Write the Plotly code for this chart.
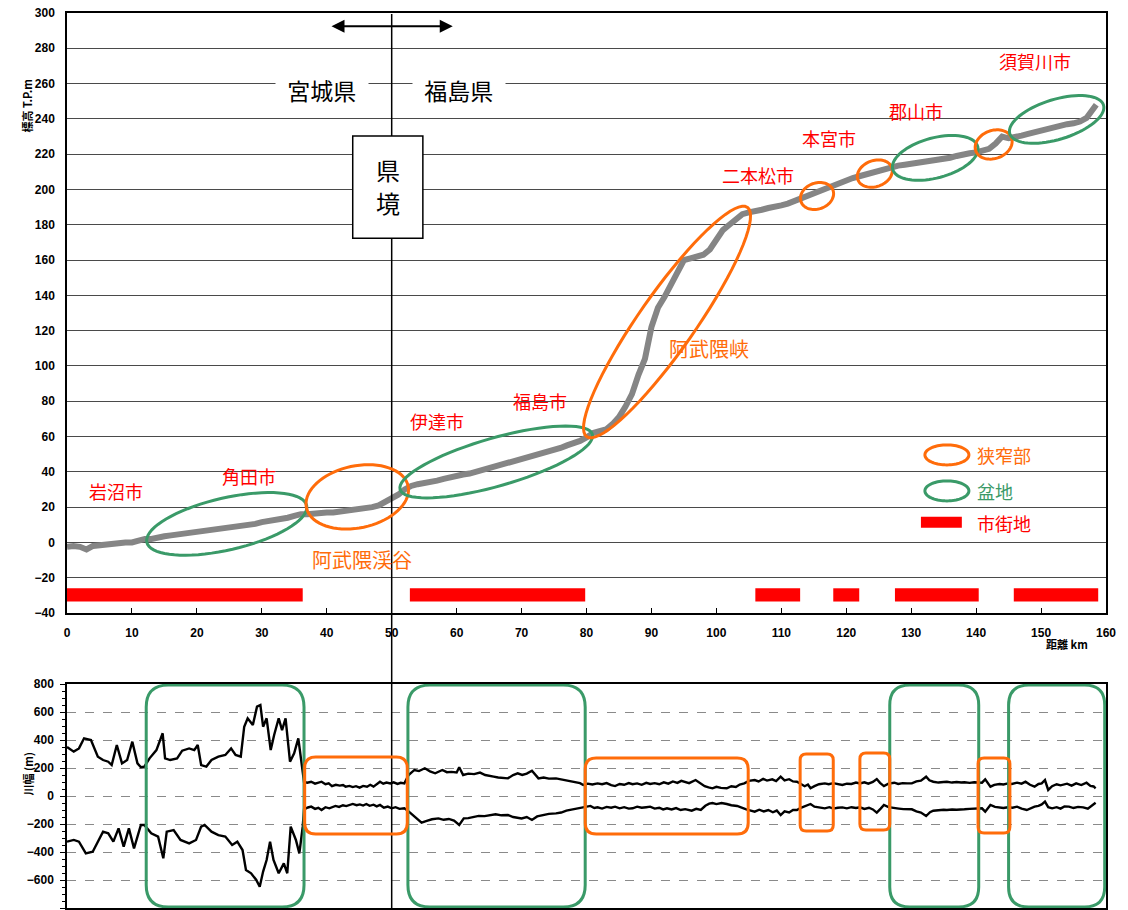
import numpy as np
import plotly.graph_objects as go

# ------------------------------------------------------------------ data
dist_km = [float(i) for i in range(159)] + [158.5]
elev_m = [
    -2.5, -2, -2.5, -4, -2, -1.5, -1.5, -1, -0.5, 0,
    0, 1, 2, 2, 3, 3.5, 4, 4.5, 4.5, 5.5,
    6, 6, 7, 7.5, 8, 8.5, 9, 9.5, 10, 10.5,
    11.5, 12, 12.5, 13, 14, 15, 16, 16, 16.5, 16.5,
    17, 17, 17.5, 18, 18, 18.5, 19, 20, 21, 23,
    25, 27, 30, 32, 33, 33.5, 34, 35, 36, 37,
    37.5, 38.5, 39, 40, 41, 42, 43, 44, 45, 46,
    47, 48, 49, 50.5, 51, 52, 53.5, 55, 56, 57.5,
    59.5, 62, 63, 64, 67, 71, 77, 84, 95, 104,
    122, 133, 139, 146, 154, 160, 161, 162, 163, 166,
    172, 177, 180, 183, 186, 187, 187.5, 188.5, 189.5, 190,
    191, 192, 193.5, 195, 196, 197.5, 199, 201, 202.5, 204,
    205, 206.5, 207.5, 208.5, 209.5, 211, 212, 213, 213.5, 214,
    214.5, 215, 215.5, 216, 217, 217.5, 218, 219, 220, 220.5,
    221, 222, 223, 226, 230, 229, 229.5, 230.5, 231.5, 232.5,
    233.5, 234.5, 235, 236, 237, 237.5, 238.5, 240.5, 245, 248,
]

width_up_km = [
    0, 1.04, 1.84, 2.63, 3.69, 4.75, 5.55, 6.35, 6.88, 7.67, 8.47, 9.26, 10.06, 10.85,
    11.38, 11.91, 12.71, 13.77, 14.73, 15.1, 15.89, 16.95, 17.74, 18.81, 19.6, 20.13,
    20.66, 21.46, 22.25, 23.31, 24.38, 25.27, 25.96, 26.76, 27.29, 27.82, 28.62, 29.26,
    29.78, 30.2, 30.74, 31.37, 31.9, 32.6, 33.12, 33.66, 34.34, 34.98, 35.62, 36.03,
    36.5, 37, 37.6, 38.2, 38.8, 39.2, 39.8, 40.3, 40.8, 41.4, 42, 42.5, 42.9, 43.5, 44,
    44.5, 45.06, 45.6, 46.2, 46.7, 47.2, 47.7, 48.2, 48.7, 49.2, 49.8, 50.3, 50.9, 51.4,
    51.95, 52.6, 53.5, 54.2, 55.1, 55.9, 56.7, 57.3, 57.8, 58.5, 59.2, 60, 60.4, 61,
    61.8, 62.7, 63.6, 64.4, 65.1, 65.7, 66.4, 67.2, 67.9, 68.7, 69.4, 70.1, 70.8, 71.6,
    72.1, 72.6, 73.4, 74.2, 75.3, 76.1, 76.9, 77.6, 78.3, 79, 79.5, 80.2, 80.9, 81.7,
    82.4, 83.1, 83.8, 84.4, 85.1, 85.8, 86.5, 87.1, 87.8, 88.5, 89.2, 89.8, 90.5, 91.2,
    91.9, 92.6, 93.3, 94, 94.6, 95.1, 95.8, 96.8, 97.5, 98.2, 98.8, 99.4, 100, 100.7,
    101.6, 102.3, 103, 103.6, 104.3, 105, 105.9, 106.5, 107.2, 107.8, 108.6, 109.2,
    109.9, 110.5, 111.2, 111.8, 112.4, 113, 113.6, 114.1, 114.5, 115.1, 115.8, 116.7,
    117.3, 118, 118.7, 119.4, 120.1, 120.8, 121.5, 122.1, 122.8, 123.4, 124.1, 124.7,
    125.2, 125.8, 126.5, 127.4, 128, 128.7, 129.4, 130.1, 130.8, 131.5, 132.3, 132.8,
    133.4, 134.2, 135, 135.5, 136.3, 137, 137.7, 138.2, 139, 139.7, 140.3, 140.9, 141.4,
    141.8, 142.2, 142.8, 143.6, 144.2, 144.9, 145.5, 146.3, 147, 147.6, 148.3, 149,
    149.6, 150.1, 150.6, 151.1, 151.7, 152.4, 153, 153.3, 154, 154.7, 155.4, 156.2, 157,
    157.6, 158.1, 158.4,
]
width_up_m = [
    350, 317, 340, 412, 400, 281, 257, 245, 221, 364, 233, 257, 388, 233,
    205, 210, 269, 328, 448, 269, 257, 269, 324, 340, 328, 364,
    221, 210, 257, 281, 293, 340, 293, 281, 495, 555, 507, 638,
    650, 495, 555, 328, 436, 555, 471, 555, 245, 305, 412, 245,
    100, 95, 102, 88, 96, 102, 84, 90, 71, 80, 74, 78, 67, 72, 64,
    70, 60, 72, 66, 80, 67, 85, 102, 88, 96, 90, 98, 86, 94,
    90, 150, 186, 178, 198, 176, 162, 172, 186, 170, 172, 168, 205, 150,
    160, 156, 167, 150, 146, 138, 132, 130, 126, 150, 162, 150, 160, 181,
    150, 126, 132, 124, 126, 118, 110, 104, 100, 92, 79, 88, 82, 90,
    84, 92, 78, 71, 86, 80, 92, 84, 90, 80, 94, 86, 92, 84,
    98, 88, 104, 94, 108, 102, 92, 114, 90, 70, 62, 55, 66, 58,
    55, 70, 64, 82, 90, 108, 114, 104, 122, 110, 119, 106,
    138, 112, 120, 104, 102, 88, 70, 82, 55, 70, 84, 90,
    84, 92, 86, 79, 88, 86, 96, 90, 98, 88, 100, 121,
    94, 71, 88, 95, 86, 92, 90, 90, 104, 110, 138, 112,
    102, 96, 100, 102, 96, 100, 96, 98, 94, 98, 96, 95, 119,
    90, 67, 80, 86, 82, 90, 86, 95, 88, 102, 80, 67,
    86, 90, 114, 43, 70, 84, 76, 79, 88, 74, 90, 78, 95,
    72, 68, 55,
]

width_lo_km = [
    0, 1.04, 1.84, 2.9, 3.96, 4.75, 5.55, 6.35, 7.14, 7.94, 8.73, 9.53, 10.32, 11.38,
    11.91, 12.97, 14.03, 14.83, 15.36, 16.42, 17.48, 18.81, 19.87, 20.66, 21.19, 22.25,
    23.31, 24.38, 25.43, 26.23, 27.03, 27.56, 28.35, 29.15, 29.68, 30.2, 30.74, 31.27,
    31.8, 32.6, 33.39, 33.92, 34.45, 35.25, 35.78, 36.3,
    36.5, 37.1, 37.6, 38.2, 38.7, 39.2, 39.8, 40.4, 41, 41.34, 41.9, 42.5, 43, 43.5, 44,
    44.6, 45.1, 45.6, 46.1, 46.6, 47.2, 47.7, 48.2, 48.8, 49.4, 50, 50.6, 51.2, 51.95,
    52.6, 53.5, 54.1, 54.6, 55.4, 56.2, 57.2, 58, 58.8, 59.6, 60.4, 61.1, 61.8, 62.6,
    63.4, 64.3, 65.2, 66, 66.9, 67.9, 68.7, 69.4, 70, 70.8, 71.6, 72.4, 73.2, 74.2, 75.3,
    76.1, 76.9, 77.7, 78.5, 79.3, 80, 80.6, 81.2, 81.7, 82.4, 83.1, 83.8, 84.4, 85.1,
    85.8, 86.5, 87.1, 87.8, 88.5, 89.2, 89.8, 90.5, 91.2, 91.8, 92.4, 93.1, 93.8, 94.5,
    95.2, 96.2, 96.9, 97.6, 98.3, 98.9, 99.4, 100, 100.8, 101.6, 102.3, 103.2, 103.9,
    104.6, 105.3, 105.9, 106.6, 107.3, 108, 108.7, 109.3, 109.9, 110.5, 111.2, 111.8,
    112.4, 113, 113.7, 114.5, 115.1, 115.8, 116.7, 117.4, 118, 118.7, 119.4, 120.1,
    120.8, 121.5, 122.1, 122.8, 123.5, 124.1, 124.7, 125.3, 125.8, 126.5, 127.4, 128.1,
    128.8, 129.5, 130.1, 130.8, 131.5, 132.3, 132.9, 133.4, 134.2, 135, 135.5, 136.3,
    137, 137.7, 138.2, 139, 139.7, 140.3, 140.9, 141.4, 141.8, 142.2, 142.9, 143.6,
    144.2, 144.9, 145.6, 146.3, 147, 147.8, 148.4, 149, 149.6, 150.1, 150.6, 151.1,
    151.7, 152.4, 153, 153.6, 154.3, 155, 155.7, 156.5, 157.2, 157.8, 158.4,
]
width_lo_m = [
    -326, -314, -326, -410, -398, -326, -255, -267, -326, -231, -362, -231, -374, -207,
    -207, -267, -290, -445, -255, -243, -314, -338, -314, -219, -207, -255,
    -279, -290, -350, -326, -386, -529, -552, -600, -648, -540, -457, -326,
    -457, -552, -481, -552, -219, -314, -410, -219,
    -95, -82, -76, -92, -84, -100, -80, -88, -74, -71, -78, -66, -72, -62, -57,
    -66, -60, -68, -57, -70, -62, -74, -64, -84, -76, -88, -80, -92, -88,
    -110, -148, -176, -190, -178, -166, -160, -170, -164, -176, -207, -160, -158, -148,
    -142, -144, -136, -130, -138, -136, -150, -156, -160, -150, -171, -146, -136, -128, -124,
    -118, -104, -96, -88, -80, -74, -71, -86, -81, -90, -78, -84, -76, -88,
    -80, -90, -88, -76, -84, -80, -76, -90, -84, -96, -88, -96, -86, -100,
    -94, -105, -92, -100, -70, -55, -50, -58, -50, -57, -66, -71, -84,
    -96, -104, -112, -98, -110, -100, -116, -104, -136, -110, -118, -100,
    -100, -84, -72, -57, -76, -82, -88, -80, -90, -84, -81, -88,
    -80, -86, -81, -92, -84, -96, -119, -90, -64, -80, -88, -90,
    -94, -92, -95, -110, -118, -143, -116, -105, -100, -98, -100, -96,
    -98, -94, -95, -92, -90, -86, -88, -112, -90, -64, -78, -81,
    -86, -80, -84, -76, -90, -100, -86, -76, -70, -60, -40, -80,
    -88, -80, -90, -74, -76, -86, -78, -81, -90, -72, -48,
]

city_start_km = [0, 52.8, 106.0, 118.0, 127.5, 145.8]
city_end_km = [36.3, 79.8, 112.9, 122.0, 140.4, 158.8]

city_labels = ["岩沼市", "角田市", "伊達市", "福島市", "二本松市", "本宮市", "郡山市", "須賀川市"]
city_label_km = [7.6, 28.0, 57.0, 72.8, 106.4, 117.3, 130.7, 149.1]
city_label_m = [29.2, 37.5, 68.9, 80.2, 208.2, 229.0, 244.3, 272.8]

x_ticks = list(range(0, 161, 10))
elev_ticks = list(range(-40, 301, 20))
width_ticks = list(range(-800, 801, 200))

# ------------------------------------------------------------------ layout geometry
W, H = 1128, 910
ML, MR, MT, MB = 67, 22, 13, 2
PW, PH = W - ML - MR, H - MT - MB
TOP_DOM = [(908 - 613) / PH, 1.0]
BOT_DOM = [0.0, (908 - 684) / PH]
X_RANGE = [0, 160]
Y1_RANGE = [-40, 300]
Y2_RANGE = [-800, 800]
KX = PW / (X_RANGE[1] - X_RANGE[0])
KY1 = PH * (TOP_DOM[1] - TOP_DOM[0]) / (Y1_RANGE[1] - Y1_RANGE[0])
KY2 = PH * (BOT_DOM[1] - BOT_DOM[0]) / (Y2_RANGE[1] - Y2_RANGE[0])

ORANGE = "#FF6C0A"
GREEN = "#3A9A68"
RED = "#FF0000"
JP = "Noto Sans CJK JP, Noto Sans, sans-serif"
NUM = "Liberation Sans, Arial, sans-serif"


def ellipse_path(cx, cy, a_px, b_px, ang_deg, ky):
    t = np.linspace(0, 2 * np.pi, 73)
    th = np.radians(ang_deg)
    dx = a_px * np.cos(t) * np.cos(th) - b_px * np.sin(t) * np.sin(th)
    dy = a_px * np.cos(t) * np.sin(th) + b_px * np.sin(t) * np.cos(th)
    xs = cx + dx / KX
    ys = cy + dy / ky
    pts = [f"{x:.4f},{y:.4f}" for x, y in zip(xs, ys)]
    return "M" + " L".join(pts) + " Z"


def rrect_path(x0, x1, y0, y1, r_px, ky):
    rx, ry = r_px / KX, r_px / ky
    return (f"M{x0+rx},{y0} L{x1-rx},{y0} Q{x1},{y0} {x1},{y0+ry} "
            f"L{x1},{y1-ry} Q{x1},{y1} {x1-rx},{y1} L{x0+rx},{y1} "
            f"Q{x0},{y1} {x0},{y1-ry} L{x0},{y0+ry} Q{x0},{y0} {x0+rx},{y0} Z")


fig = go.Figure()

fig.add_trace(go.Scatter(x=dist_km, y=elev_m, mode="lines",
                         line=dict(color="#858585", width=6),
                         xaxis="x", yaxis="y", showlegend=False, hoverinfo="skip"))
fig.add_trace(go.Scatter(x=width_up_km, y=width_up_m, mode="lines",
                         line=dict(color="black", width=2.4),
                         xaxis="x2", yaxis="y2", showlegend=False, hoverinfo="skip"))
fig.add_trace(go.Scatter(x=width_lo_km, y=width_lo_m, mode="lines",
                         line=dict(color="black", width=2.4),
                         xaxis="x2", yaxis="y2", showlegend=False, hoverinfo="skip"))

shapes = []
# prefecture border line across both panels
shapes.append(dict(type="line", xref="x", yref="paper", x0=50, x1=50, y0=0, y1=0.999,
                   line=dict(color="black", width=1.5), layer="above"))
# 県境 box
shapes.append(dict(type="rect", xref="x", yref="y", x0=44.0, x1=54.8, y0=172.4, y1=230.3,
                   fillcolor="white", line=dict(color="black", width=1.5), layer="above"))
# city-area bars
for s, e in zip(city_start_km, city_end_km):
    shapes.append(dict(type="rect", xref="x", yref="y", x0=s, x1=e, y0=-33.5, y1=-26,
                       fillcolor=RED, line=dict(width=0), layer="above"))

# ellipses on the elevation profile: (center km, center m, a px, b px, angle, colour)
ellipses = [
    (24.6, 10.5, 82, 26, 13, GREEN),
    (44.7, 25.8, 52, 31, 12, ORANGE),
    (66.1, 45.6, 100, 24, 16, GREEN),
    (92.4, 124.9, 140, 28, 55, ORANGE),
    (115.5, 196.3, 17, 13, 20, ORANGE),
    (124.4, 209.0, 18, 13, 20, ORANGE),
    (133.7, 217.9, 44, 20, 15, GREEN),
    (142.7, 225.5, 19, 14, 20, ORANGE),
    (152.4, 239.7, 49, 20, 17, GREEN),
    # legend symbols
    (135.5, 49.6, 22, 10, 0, ORANGE),
    (135.5, 29.2, 22, 10, 0, GREEN),
]
for cx, cy, a, b, ang, col in ellipses:
    shapes.append(dict(type="path", xref="x", yref="y", path=ellipse_path(cx, cy, a, b, ang, KY1),
                       line=dict(color=col, width=3), layer="above"))
# legend red rect
shapes.append(dict(type="rect", xref="x", yref="y", x0=131.5, x1=137.8, y0=8.3, y1=14.5,
                   fillcolor=RED, line=dict(width=0), layer="above"))

# rounded boxes in the width panel: (x0, x1, y0, y1, radius px, colour)
boxes = [
    (12.2, 36.5, -792, 792, 22, GREEN),
    (52.5, 79.8, -792, 792, 22, GREEN),
    (126.7, 140.4, -792, 792, 20, GREEN),
    (145.0, 159.8, -792, 792, 20, GREEN),
    (36.6, 52.4, -271, 279, 11, ORANGE),
    (79.8, 104.9, -271, 271, 11, ORANGE),
    (112.9, 118.0, -250, 300, 6, ORANGE),
    (122.1, 126.7, -243, 307, 6, ORANGE),
    (140.3, 145.2, -264, 271, 6, ORANGE),
]
for x0, x1, y0, y1, r, col in boxes:
    shapes.append(dict(type="path", xref="x2", yref="y2", path=rrect_path(x0, x1, y0, y1, r, KY2),
                       line=dict(color=col, width=3), layer="above"))

annotations = []
for txt, xk, ym in zip(city_labels, city_label_km, city_label_m):
    annotations.append(dict(text=txt, x=xk, y=ym, xref="x", yref="y", showarrow=False,
                            font=dict(family=JP, size=18, color=RED)))
annotations += [
    dict(text="阿武隈渓谷", x=45.4, y=-9.9, xref="x", yref="y", showarrow=False,
         font=dict(family=JP, size=20, color=ORANGE)),
    dict(text="阿武隈峡", x=98.9, y=109.7, xref="x", yref="y", showarrow=False,
         font=dict(family=JP, size=20, color=ORANGE)),
    dict(text="\u00a0\u00a0宮城県\u00a0\u00a0", x=39.3, y=256.3, xref="x", yref="y", showarrow=False,
         bgcolor="white", font=dict(family=JP, size=23, color="black")),
    dict(text="\u00a0\u00a0福島県\u00a0\u00a0", x=60.4, y=256.3, xref="x", yref="y", showarrow=False,
         bgcolor="white", font=dict(family=JP, size=23, color="black")),
    dict(text="県", x=49.4, y=211.1, xref="x", yref="y", showarrow=False, yanchor="middle",
         borderpad=0, font=dict(family=JP, size=24, color="black")),
    dict(text="境", x=49.4, y=192.4, xref="x", yref="y", showarrow=False, yanchor="middle",
         borderpad=0, font=dict(family=JP, size=24, color="black")),
    dict(text="", x=59.4, y=292.5, ax=40.5, ay=292.5, xref="x", yref="y", axref="x", ayref="y",
         showarrow=True, arrowside="end+start", arrowhead=2, arrowsize=1.3, arrowwidth=2,
         arrowcolor="black"),
    dict(text="狭窄部", x=139.8, y=49.6, xref="x", yref="y", xanchor="left", showarrow=False,
         font=dict(family=JP, size=18, color=ORANGE)),
    dict(text="盆地", x=139.8, y=29.2, xref="x", yref="y", xanchor="left", showarrow=False,
         font=dict(family=JP, size=18, color=GREEN)),
    dict(text="市街地", x=139.8, y=11.2, xref="x", yref="y", xanchor="left", showarrow=False,
         font=dict(family=JP, size=18, color=RED)),
    dict(text="<b>標高 T.P.m</b>", x=(17 - ML) / PW, y=(908 - 78) / PH, xref="paper", yref="paper",
         showarrow=False, textangle=-90, font=dict(family=JP, size=11, color="black")),
    dict(text="<b>距離 km</b>", x=(1090 - ML) / PW, y=(908 - 654) / PH, xref="paper", yref="paper",
         showarrow=False, font=dict(family=JP, size=11, color="black")),
    dict(text="<b>川幅 (m)</b>", x=(17 - ML) / PW, y=(908 - 798) / PH, xref="paper", yref="paper",
         showarrow=False, textangle=-90, font=dict(family=JP, size=11, color="black")),
]

tickfont = dict(family=NUM, size=12, color="black", weight="bold")

fig.update_layout(
    width=W, height=H, autosize=False, margin=dict(l=ML, r=MR, t=MT, b=MB),
    paper_bgcolor="white", plot_bgcolor="white",
    showlegend=False,
    xaxis=dict(domain=[0, 1], anchor="y", range=X_RANGE, tickvals=x_ticks, automargin=False,
               ticks="inside", ticklen=5, tickcolor="black", showgrid=False, zeroline=False,
               showline=True, linecolor="black", linewidth=1.5, mirror=True,
               tickfont=tickfont, ticklabelstandoff=8),
    yaxis=dict(domain=TOP_DOM, anchor="x", range=Y1_RANGE, tickvals=elev_ticks, automargin=False,
               ticks="", showgrid=True, gridcolor="#4a4a4a", gridwidth=1, zeroline=False,
               showline=True, linecolor="black", linewidth=1.5, mirror=True,
               tickfont=tickfont, ticklabelstandoff=8),
    xaxis2=dict(domain=[0, 1], anchor="y2", range=X_RANGE, tickvals=x_ticks, automargin=False,
                showticklabels=False, ticks="", showgrid=False, zeroline=False,
                showline=True, linecolor="black", linewidth=1.5, mirror=True),
    yaxis2=dict(domain=BOT_DOM, anchor="x2", range=Y2_RANGE, tickvals=width_ticks, automargin=False,
                ticks="outside", ticklen=5, tickcolor="black",
                minor=dict(dtick=50, ticks="outside", ticklen=3, tickcolor="black", showgrid=False),
                showgrid=True, gridcolor="#8a8a8a", griddash="dash", gridwidth=1, zeroline=False,
                showline=True, linecolor="black", linewidth=1.5, mirror=True,
                tickfont=tickfont, ticklabelstandoff=4),
    shapes=shapes,
    annotations=annotations,
)

fig.write_html("out.html", config={"displayModeBar": False, "responsive": False},
               post_script="document.body.style.margin='0px';")
